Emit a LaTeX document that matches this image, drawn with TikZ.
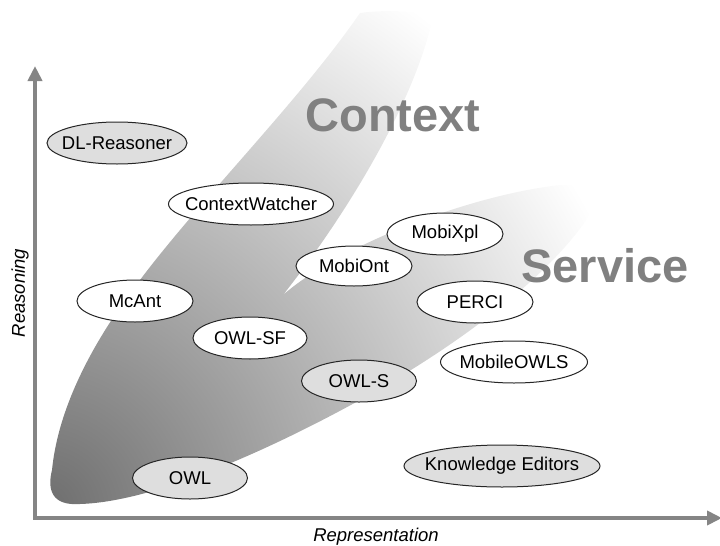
\documentclass[tikz,border=0pt]{standalone}
\usepackage{fontspec}
\setmainfont{Liberation Sans}
\usetikzlibrary{shapes.geometric,arrows.meta}
\definecolor{axisgray}{rgb}{0.52,0.52,0.52}
\definecolor{bigtext}{rgb}{0.5,0.5,0.5}
\definecolor{std}{rgb}{0.87,0.87,0.87}
\tikzstyle{tool} = [ellipse,draw=black!85,line width=1pt,fill=white,inner sep=0pt,minimum width=115pt,minimum height=42pt,font=\fontsize{18.5}{20}\selectfont]
\tikzstyle{stdtool} = [tool,fill=std]
\tikzstyle{axisline} = [draw=axisgray,line width=4.5pt,{Triangle[length=15pt,width=14pt]}-{Triangle[length=15pt,width=14pt]}]
\tikzstyle{big} = [font=\bfseries\fontsize{47}{50}\selectfont,text=bigtext]
\newcommand{\nm}[1]{\makebox[0pt]{#1}}

\begin{document}
\begin{tikzpicture}[x=1pt,y=-1pt]
			\useasboundingbox (0,0) rectangle (720,546);

			\begin{scope}
			\clip (52,470) .. controls (58,410) and (90,345) .. (140,280)
				.. controls (200,200) and (300,100) .. (360,13)
				.. controls (380,10) and (420,10) .. (433,17)
				.. controls (415,100) and (350,210) .. (283,295)
				.. controls (340,245) and (470,195) .. (560,185)
				.. controls (590,183) and (600,200) .. (585,222)
				.. controls (540,285) and (450,350) .. (360,400)
				.. controls (260,455) and (150,502) .. (80,504)
				.. controls (52,506) and (47,490) .. (52,470) -- cycle;
			\shade[inner color=black!57,outer color=white] (45,508) circle (620pt);
			\end{scope}

			\coordinate (o) at (35,518);
			\coordinate (ytop) at (35,66);
			\coordinate (xend) at (722,518);
			\draw[axisline] (ytop) |- (xend);
			\node[rotate=90,font=\itshape\fontsize{18.5}{20}\selectfont] (reas) at (20,293) {Reasoning};
			\node[font=\itshape\fontsize{18.5}{20}\selectfont] (repr) at (376,537) {Representation};

			\node[big] (ctx) at (393,115) {Context};
			\node[big] (srv) at (605,266) {Service};

			\node[stdtool,minimum width=140pt] (dl) at (117,143) {\nm{DL-Reasoner}};
			\node[tool,minimum width=165pt] (cw) at (251,204) {\nm{ContextWatcher}};
			\node[tool,minimum width=116pt] (mx) at (445,234) {\nm{MobiXpl}};
			\node[tool,minimum width=116pt,minimum height=40pt] (mo) at (354,266) {\nm{MobiOnt}};
			\node[tool,minimum width=116pt] (mc) at (135,301) {\nm{McAnt}};
			\node[tool,minimum width=116pt] (pe) at (475,302) {\nm{PERCI}};
			\node[tool,minimum width=114pt] (sf) at (250,338) {\nm{OWL-SF}};
			\node[tool,minimum width=147pt] (mow) at (514,362) {\nm{MobileOWLS}};
			\node[stdtool,minimum width=115pt] (ows) at (359,381) {\nm{OWL-S}};
			\node[stdtool,minimum width=115pt] (owl) at (190,478) {\nm{OWL}};
			\node[stdtool,minimum width=196pt] (ke) at (502,466) {\nm{Knowledge Editors}};
			\end{tikzpicture}
\end{document}
